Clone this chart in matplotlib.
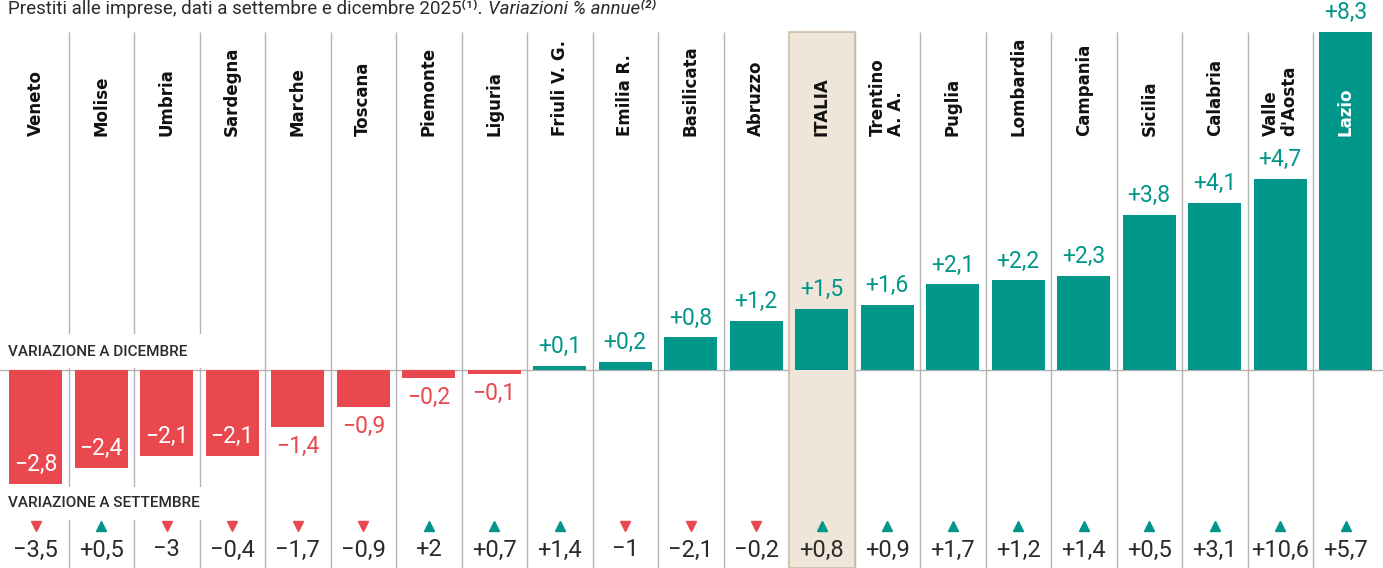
import matplotlib

matplotlib.use("Agg")

import matplotlib.pyplot as plt
from matplotlib.patches import Rectangle

regions = [
    "Veneto", "Molise", "Umbria", "Sardegna", "Marche", "Toscana",
    "Piemonte", "Liguria", "Friuli V. G.", "Emilia R.", "Basilicata",
    "Abruzzo", "ITALIA", "Trentino\nA. A.", "Puglia", "Lombardia",
    "Campania", "Sicilia", "Calabria", "Valle\nd'Aosta", "Lazio",
]
var_dicembre = [
    -2.8, -2.4, -2.1, -2.1, -1.4, -0.9, -0.2, -0.1, 0.1, 0.2, 0.8,
    1.2, 1.5, 1.6, 2.1, 2.2, 2.3, 3.8, 4.1, 4.7, 8.3,
]
var_settembre = [
    -3.5, 0.5, -3, -0.4, -1.7, -0.9, 2, 0.7, 1.4, -1, -2.1,
    -0.2, 0.8, 0.9, 1.7, 1.2, 1.4, 0.5, 3.1, 10.6, 5.7,
]
highlight = "ITALIA"

title_main = "Prestiti alle imprese, dati a settembre e dicembre 2025⁽¹⁾."
title_italic = "Variazioni % annue⁽²⁾"
label_dicembre = "VARIAZIONE A DICEMBRE"
label_settembre = "VARIAZIONE A SETTEMBRE"

RED = "#E8484E"
TEAL = "#00968A"
BEIGE = "#F0E5D9"
TAN = "#CDBBA8"
GRID = "#B4B4B4"
TEXT = "#2b2b2b"

NUM_FONT = ["Roboto", "DejaVu Sans"]
HEAD_FONT = ["DejaVu Sans"]

# pixel layout of the 1383x568 canvas
W, H = 1383, 568
COL_W = 65.5
LEFT_PAD = 3
ZERO_PX = 370
PX_PER_UNIT = 40.72


def fmt(v):
    s = f"{abs(v):.1f}".replace(".", ",")
    if s.endswith(",0"):
        s = s[:-2]
    return ("+" if v > 0 else "\u2212") + s


def yfrac(px):
    """Axes fraction for a pixel row measured from the top."""
    return 1 - px / H


fig = plt.figure(figsize=(W / 100, H / 100), dpi=100)
ax = fig.add_axes([0, 0, 1, 1])
ax.set_axis_off()

x_left = -0.5 - LEFT_PAD / COL_W
ax.set_xlim(x_left, x_left + W / COL_W)
y_bottom = -(H - ZERO_PX) / PX_PER_UNIT
ax.set_ylim(y_bottom, ZERO_PX / PX_PER_UNIT)

n = len(regions)
xs = list(range(n))
top = max(var_dicembre)
xtrans = ax.get_xaxis_transform()

# column separators and zero line
ax.vlines([i + 0.5 for i in range(n - 1)], y_bottom, top,
          color=GRID, linewidth=1, zorder=1)
ax.axhline(0, color=GRID, linewidth=1, zorder=1)

# highlighted national column
hi = regions.index(highlight)
ax.add_patch(Rectangle((hi - 0.5, y_bottom), 1, top - y_bottom,
                       facecolor=BEIGE, edgecolor=TAN, linewidth=1.2,
                       zorder=1.5))

colors = [RED if v < 0 else TEAL for v in var_dicembre]
ax.bar(xs, var_dicembre, width=0.81, color=colors, zorder=3)

# value labels for December
for i, v in enumerate(var_dicembre):
    if v <= -2:
        off, col = 14, "white"
    elif v < 0:
        off, col = -14, RED
    else:
        off, col = 14, TEAL
    ax.annotate(fmt(v), xy=(i, v), xytext=(0, off),
                textcoords="offset points", ha="center", va="center",
                fontsize=16.5, color=col, family=NUM_FONT, zorder=5)

# column headers
for i, name in enumerate(regions):
    col = "white" if var_dicembre[i] >= top else "#111111"
    ax.text(i, yfrac(136), name, transform=xtrans, rotation=90,
            ha="center", va="bottom", multialignment="left",
            fontsize=12, fontweight="bold", color=col,
            family=HEAD_FONT, linespacing=1.0, zorder=5)

# white masks behind the section labels
ax.add_patch(Rectangle((x_left, yfrac(368)), 2.6 - x_left,
                       yfrac(334) - yfrac(368), transform=xtrans,
                       facecolor="white", edgecolor="none", zorder=2))
ax.add_patch(Rectangle((x_left, yfrac(520)), 2.6 - x_left,
                       yfrac(487) - yfrac(520), transform=xtrans,
                       facecolor="white", edgecolor="none", zorder=2))
ax.text(8 / W, yfrac(352), label_dicembre, transform=ax.transAxes,
        ha="left", va="center", fontsize=11, fontweight="medium",
        color=TEXT, family=NUM_FONT, zorder=5)
ax.text(8 / W, yfrac(503), label_settembre, transform=ax.transAxes,
        ha="left", va="center", fontsize=11, fontweight="medium",
        color=TEXT, family=NUM_FONT, zorder=5)

# September row: arrows and values
for i, v in enumerate(var_settembre):
    ax.plot(i, yfrac(526), marker="^" if v > 0 else "v",
            color=TEAL if v > 0 else RED, markersize=7.5,
            transform=xtrans, linestyle="none", zorder=5)
    ax.text(i, yfrac(550), fmt(v), transform=xtrans, ha="center",
            va="center", fontsize=17, color=TEXT, family=NUM_FONT,
            zorder=5)

# title along the top edge
t1 = fig.text(8 / W, 1 - 14 / H, title_main, ha="left", va="baseline",
              fontsize=13.5, color=TEXT, family=NUM_FONT)
ax.annotate(title_italic, xy=(1, 0), xycoords=t1, xytext=(4, 0),
            textcoords="offset points", ha="left", va="bottom",
            fontsize=13.5, style="italic", color=TEXT, family=NUM_FONT)

fig.savefig("out.png", dpi=100)
plt.close(fig)
